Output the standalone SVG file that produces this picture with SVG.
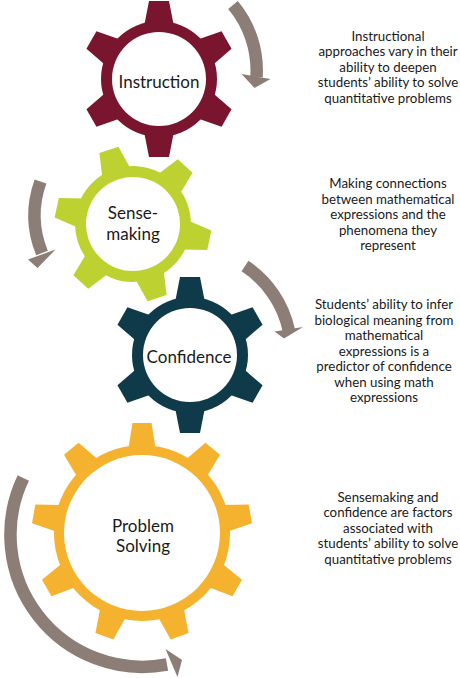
<svg xmlns="http://www.w3.org/2000/svg" xmlns:xlink="http://www.w3.org/1999/xlink" width="460" height="678" viewBox="0 0 460 678">
<style>
.lbl{font-family:Lato,"Liberation Sans",sans-serif;font-size:17px;fill:#1a1a1a;text-anchor:middle}
.desc{font-family:Lato,"Liberation Sans",sans-serif;font-size:13.3px;fill:#1a1a1a;text-anchor:middle}
.shaft{fill:none;stroke:#8c7e77;stroke-width:12.5;stroke-linecap:butt}
.head{fill:#8c7e77}
.hole{fill:#ffffff}
</style>
<defs>
<path id="toothS" d="M-14.5,-55 L14.5,-55 L10,-78 L-10,-78 Z"/>
<path id="toothL" d="M-13.5,-85 L13.5,-85 L9.5,-110 L-9.5,-110 Z"/>
</defs>
<rect width="460" height="678" fill="#ffffff"/>

<g id="connectors">
<path class="shaft" d="M233,5 A102,102 0 0,1 256.5,77"/>
<polygon class="head" points="241.5,74 270.5,79 254.5,88"/>
<path class="shaft" d="M40.5,181.5 A100,100 0 0,0 42,253"/>
<polygon class="head" points="28,259.5 55.5,249.5 37.5,268"/>
<path class="shaft" d="M245,266 A103,103 0 0,1 289,331"/>
<polygon class="head" points="274.5,331.5 303,327 284,338.5"/>
<path class="shaft" d="M23.3,478 A132,132 0 0,0 167,664.5"/>
<polygon class="head" points="165.5,649 177.5,677 182,660"/>
</g>

<g id="gear-instruction" fill="#7a1530">
<g transform="translate(159,79)">
<circle r="58"/>
<use href="#toothS"/>
<use href="#toothS" transform="rotate(60)"/>
<use href="#toothS" transform="rotate(120)"/>
<use href="#toothS" transform="rotate(180)"/>
<use href="#toothS" transform="rotate(240)"/>
<use href="#toothS" transform="rotate(300)"/>
<circle class="hole" r="47"/>
</g>
<text class="lbl" x="159" y="88">Instruction</text>
</g>

<g id="gear-sensemaking" fill="#bdd230">
<g transform="translate(133,224) rotate(-18)">
<circle r="58"/>
<use href="#toothS"/>
<use href="#toothS" transform="rotate(60)"/>
<use href="#toothS" transform="rotate(120)"/>
<use href="#toothS" transform="rotate(180)"/>
<use href="#toothS" transform="rotate(240)"/>
<use href="#toothS" transform="rotate(300)"/>
<circle class="hole" r="47"/>
</g>
<text class="lbl" x="133" y="219">Sense-</text>
<text class="lbl" x="133" y="240">making</text>
</g>

<g id="gear-confidence" fill="#0f3a4a">
<g transform="translate(190,355)">
<circle r="58"/>
<use href="#toothS"/>
<use href="#toothS" transform="rotate(60)"/>
<use href="#toothS" transform="rotate(120)"/>
<use href="#toothS" transform="rotate(180)"/>
<use href="#toothS" transform="rotate(240)"/>
<use href="#toothS" transform="rotate(300)"/>
<circle class="hole" r="47"/>
</g>
<text class="lbl" x="189" y="363">Confidence</text>
</g>

<g id="gear-problem-solving" fill="#f4b22f">
<g transform="translate(142,533)">
<circle r="88"/>
<use href="#toothL"/>
<use href="#toothL" transform="rotate(40)"/>
<use href="#toothL" transform="rotate(80)"/>
<use href="#toothL" transform="rotate(120)"/>
<use href="#toothL" transform="rotate(160)"/>
<use href="#toothL" transform="rotate(200)"/>
<use href="#toothL" transform="rotate(240)"/>
<use href="#toothL" transform="rotate(280)"/>
<use href="#toothL" transform="rotate(320)"/>
<circle class="hole" r="78"/>
</g>
<text class="lbl" x="143" y="532">Problem</text>
<text class="lbl" x="143" y="552">Solving</text>
</g>

<g id="note-instruction">
<text class="desc" x="388" y="40.5">Instructional</text>
<text class="desc" x="388" y="56">approaches vary in their</text>
<text class="desc" x="388" y="71.5">ability to deepen</text>
<text class="desc" x="388" y="87">students’ ability to solve</text>
<text class="desc" x="388" y="102.5">quantitative problems</text>
</g>

<g id="note-sensemaking">
<text class="desc" x="388" y="188">Making connections</text>
<text class="desc" x="388" y="203.5">between mathematical</text>
<text class="desc" x="388" y="219">expressions and the</text>
<text class="desc" x="388" y="234.5">phenomena they</text>
<text class="desc" x="388" y="250">represent</text>
</g>

<g id="note-confidence">
<text class="desc" x="384" y="309">Students’ ability to infer</text>
<text class="desc" x="384" y="324.5">biological meaning from</text>
<text class="desc" x="384" y="340">mathematical</text>
<text class="desc" x="384" y="355.5">expressions is a</text>
<text class="desc" x="384" y="371">predictor of confidence</text>
<text class="desc" x="384" y="386.5">when using math</text>
<text class="desc" x="384" y="402">expressions</text>
</g>

<g id="note-problem-solving">
<text class="desc" x="388" y="501.5">Sensemaking and</text>
<text class="desc" x="388" y="517">confidence are factors</text>
<text class="desc" x="388" y="532.5">associated with</text>
<text class="desc" x="388" y="548">students’ ability to solve</text>
<text class="desc" x="388" y="563.5">quantitative problems</text>
</g>
</svg>
